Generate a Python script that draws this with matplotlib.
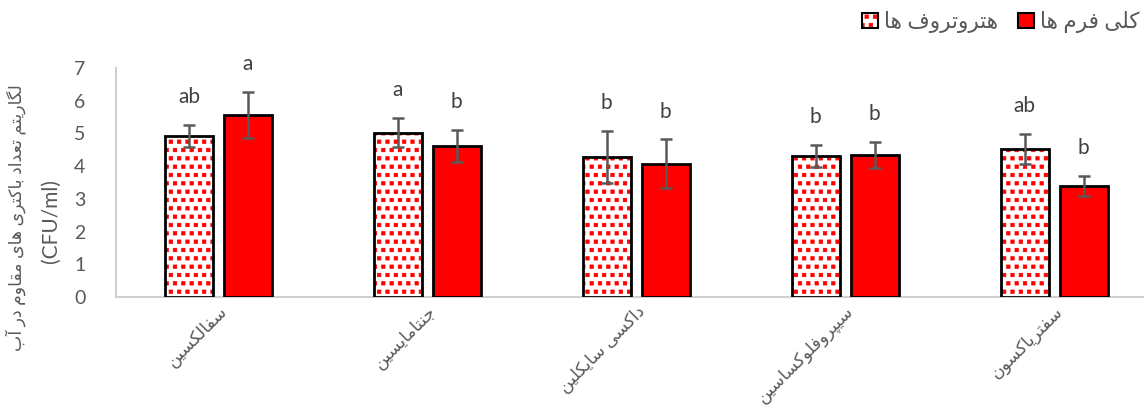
import matplotlib
matplotlib.use('Agg')
from matplotlib import pyplot as plt
from matplotlib.patches import Patch
from matplotlib.colors import to_rgba
import matplotlib.hatch as mhatch
from matplotlib.path import Path
import numpy as np

# --- data ---
categories = ['سفالکسین', 'جنتامایسین', 'داکسی سایکلین', 'سیپروفلوکساسین', 'سفتریاکسون']
hetero = [4.92, 5.02, 4.28, 4.31, 4.53]
hetero_err = [0.34, 0.45, 0.80, 0.35, 0.45]
coli = [5.57, 4.62, 4.07, 4.34, 3.39]
coli_err = [0.70, 0.50, 0.75, 0.40, 0.31]
hetero_letters = ['ab', 'a', 'b', 'b', 'ab']
coli_letters = ['a', 'b', 'b', 'b', 'b']
series_names = ['هتروتروف ها', 'کلی فرم ها']
ylabel_fa = 'لگاریتم تعداد باکتری های مقاوم در آب'
ylabel_unit = '(CFU/ml)'

# --- minimal persian shaping (matplotlib has no bidi / joining) ---
FORMS = {
    'ا': (0xFE8D, 0xFE8E), 'آ': (0xFE81, 0xFE82),
    'د': (0xFEA9, 0xFEAA), 'ذ': (0xFEAB, 0xFEAC),
    'ر': (0xFEAD, 0xFEAE), 'ز': (0xFEAF, 0xFEB0),
    'ژ': (0xFB8A, 0xFB8B), 'و': (0xFEED, 0xFEEE),
    'ب': (0xFE8F, 0xFE90, 0xFE91, 0xFE92), 'پ': (0xFB56, 0xFB57, 0xFB58, 0xFB59),
    'ت': (0xFE95, 0xFE96, 0xFE97, 0xFE98), 'ث': (0xFE99, 0xFE9A, 0xFE9B, 0xFE9C),
    'ج': (0xFE9D, 0xFE9E, 0xFE9F, 0xFEA0), 'چ': (0xFB7A, 0xFB7B, 0xFB7C, 0xFB7D),
    'ح': (0xFEA1, 0xFEA2, 0xFEA3, 0xFEA4), 'خ': (0xFEA5, 0xFEA6, 0xFEA7, 0xFEA8),
    'س': (0xFEB1, 0xFEB2, 0xFEB3, 0xFEB4), 'ش': (0xFEB5, 0xFEB6, 0xFEB7, 0xFEB8),
    'ع': (0xFEC9, 0xFECA, 0xFECB, 0xFECC), 'غ': (0xFECD, 0xFECE, 0xFECF, 0xFED0),
    'ف': (0xFED1, 0xFED2, 0xFED3, 0xFED4), 'ق': (0xFED5, 0xFED6, 0xFED7, 0xFED8),
    'ک': (0xFB8E, 0xFB8F, 0xFB90, 0xFB91), 'گ': (0xFB92, 0xFB93, 0xFB94, 0xFB95),
    'ل': (0xFEDD, 0xFEDE, 0xFEDF, 0xFEE0), 'م': (0xFEE1, 0xFEE2, 0xFEE3, 0xFEE4),
    'ن': (0xFEE5, 0xFEE6, 0xFEE7, 0xFEE8), 'ه': (0xFEE9, 0xFEEA, 0xFEEB, 0xFEEC),
    'ی': (0xFBFC, 0xFBFD, 0xFBFE, 0xFBFF),
}


def fa(text):
    out = []
    for i, ch in enumerate(text):
        f = FORMS.get(ch)
        if f is None:
            out.append(ch)
            continue
        prev = text[i - 1] if i > 0 else ''
        nxt = text[i + 1] if i + 1 < len(text) else ''
        jp = prev in FORMS and len(FORMS[prev]) == 4
        jn = nxt in FORMS and len(f) == 4
        if jp and jn:
            c = f[3]
        elif jp:
            c = f[1]
        elif jn:
            c = f[2]
        else:
            c = f[0]
        out.append(chr(c))
    return ''.join(out)[::-1]


# square dots instead of round ones for the '.' hatch
class SmallFilledSquares(mhatch.SmallFilledCircles):
    size = 0.2

    def __init__(self, hatch, density):
        self.num_rows = hatch.count('.') * density
        sq = Path.unit_rectangle()
        self.shape_vertices = sq.vertices * 2 - 1
        self.shape_codes = sq.codes
        mhatch.Shapes.__init__(self, hatch, density)


try:
    i_ = mhatch._hatch_types.index(mhatch.SmallFilledCircles)
    mhatch._hatch_types[i_] = SmallFilledSquares
except Exception:
    pass


def red_hatch(patch):
    # outline stays black, dots red
    patch._hatch_color = to_rgba('red')
    return patch


grey = '#595959'
fams = ['Lato', 'DejaVu Sans']
plt.rcParams['font.family'] = fams
plt.rcParams['hatch.linewidth'] = 0.6

fig = plt.figure(figsize=(11.44, 4.2), dpi=100)
ax = fig.add_axes([116 / 1144, 1 - 297 / 420, 1 - 116 / 1144, (297 - 68) / 420])

x = np.arange(len(categories))
w = 0.23
off = 0.141

b1 = ax.bar(x - off, hetero, w, color='white', edgecolor='black', hatch='..', linewidth=2, zorder=3)
for p in b1:
    red_hatch(p)
ax.bar(x + off, coli, w, color='red', edgecolor='black', linewidth=2, zorder=3)

ax.errorbar(x - off, hetero, yerr=hetero_err, fmt='none', ecolor=grey, elinewidth=1.8,
            capsize=4.5, capthick=1.8, zorder=4)
ax.errorbar(x + off, coli, yerr=coli_err, fmt='none', ecolor=grey, elinewidth=1.8,
            capsize=4.5, capthick=1.8, zorder=4)

for i in range(len(categories)):
    ax.text(x[i] - off, hetero[i] + hetero_err[i] + 0.85, hetero_letters[i], ha='center', va='center',
            fontsize=15, color='#404040')
    ax.text(x[i] + off, coli[i] + coli_err[i] + 0.85, coli_letters[i], ha='center', va='center',
            fontsize=15, color='#404040')

ax.set_ylim(0, 7)
ax.set_xlim(-0.49, 4.43)
ax.set_yticks(range(0, 8))
ax.tick_params(axis='y', length=0, labelsize=14, labelcolor=grey, pad=22)
ax.tick_params(axis='x', length=0, pad=4)
ax.set_xticks(x)
ax.set_xticklabels([fa(c) for c in categories], rotation=45, ha='right', va='top',
                   rotation_mode='anchor', fontsize=12.5, color=grey)
for s in ['top', 'right']:
    ax.spines[s].set_visible(False)
for s in ['left', 'bottom']:
    ax.spines[s].set_color('#d0d0d0')
    ax.spines[s].set_linewidth(1.5)

fig.text(16 / 1144, 1 - 218 / 420, fa(ylabel_fa), rotation=90, ha='center', va='center',
         fontsize=12.5, color=grey)
fig.text(51 / 1144, 1 - 221 / 420, ylabel_unit, rotation=90, ha='center', va='center',
         fontsize=15, color=grey)

h1 = red_hatch(Patch(facecolor='white', edgecolor='black', hatch='..', linewidth=1.5))
h2 = Patch(facecolor='red', edgecolor='black', linewidth=1.5)
fig.legend([h1, h2], [fa(n) for n in series_names],
           loc='center right', bbox_to_anchor=(1 - 2 / 1144, 1 - 22 / 420), ncol=2, frameon=False,
           fontsize=15.5, labelcolor=grey, handlelength=0.75, handleheight=0.75, handletextpad=0.3,
           columnspacing=0.9, borderaxespad=0, borderpad=0.1)

fig.savefig('out.png', dpi=100)
